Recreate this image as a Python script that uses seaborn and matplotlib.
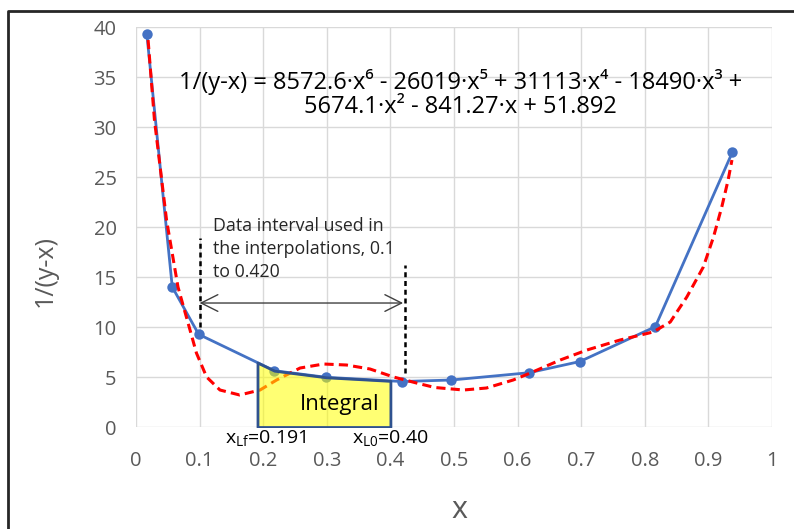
import numpy as np
import matplotlib
matplotlib.use("Agg")
import matplotlib.pyplot as plt
import seaborn as sns
from matplotlib.lines import Line2D

# measured points (blue) and the 6th order trendline as drawn (red dashed)
x_data = [0.017, 0.057, 0.0985, 0.2175, 0.299, 0.418, 0.496, 0.618, 0.698, 0.8165, 0.9376]
y_data = [39.3, 14.0, 9.27, 5.63, 4.97, 4.55, 4.7, 5.43, 6.55, 10.03, 27.47]

fit_x = [0.019, 0.029, 0.048, 0.066, 0.088, 0.095, 0.111, 0.132, 0.163, 0.195,
         0.221, 0.258, 0.295, 0.331, 0.368, 0.405, 0.441, 0.47, 0.515, 0.551,
         0.593, 0.62, 0.667, 0.709, 0.761, 0.813, 0.84, 0.866, 0.892, 0.908,
         0.921, 0.931, 0.937]
fit_y = [38.7, 30.7, 20.7, 14.0, 9.0, 7.4, 5.0, 3.7, 3.2, 3.7,
         4.7, 5.9, 6.3, 6.2, 5.8, 5.0, 4.4, 3.95, 3.7, 3.9,
         4.7, 5.4, 6.7, 7.7, 8.7, 9.5, 10.5, 13.0, 16.0, 19.0,
         22.0, 24.7, 26.7]

# integral limits and interpolation interval
x_lf, x_l0 = 0.191, 0.40
interval_x = [0.1, 0.42]
vline_x = [0.1, 0.423]
vline_bottom = [10.0, 5.4]
vline_top = [18.9, 16.2]
arrow_y = 12.4

x_ticks = [0, 0.1, 0.2, 0.3, 0.4, 0.5, 0.6, 0.7, 0.8, 0.9, 1]
x_ticklabels = ["0", "0.1", "0.2", "0.3", "0.4", "0.5", "0.6", "0.7", "0.8", "0.9", "1"]
y_ticks = [0, 5, 10, 15, 20, 25, 30, 35, 40]

equation = ("1/(y-x) = 8572.6·x⁶ - 26019·x⁵ + 31113·x⁴ - 18490·x³ +\n"
            "5674.1·x² - 841.27·x + 51.892")
interval_text = "Data interval used in\nthe interpolations, 0.1\nto 0.420"

sns.set_style("white")
plt.rcParams['font.family'] = ['Open Sans', 'DejaVu Sans']
plt.rcParams['mathtext.fontset'] = 'custom'
plt.rcParams['mathtext.rm'] = 'Open Sans'
plt.rcParams['mathtext.it'] = 'Open Sans'

fig = plt.figure(figsize=(7.94, 5.29), dpi=100)
ax = fig.add_axes([0.1713, 0.1928, 0.801, 0.7561])

sns.lineplot(x=x_data, y=y_data, ax=ax, color="#4472C4", lw=2, marker="o",
             markersize=7.5, markeredgewidth=0, zorder=2)
sns.lineplot(x=fit_x, y=fit_y, ax=ax, color="#FF0000", lw=2.2,
             linestyle=(0, (3, 1.7)), zorder=3)

# yellow integral area under the measured curve
xd = np.array(x_data)
inside = xd[(xd > x_lf) & (xd < x_l0)]
xs_box = np.concatenate([[x_lf], inside, [x_l0]])
ys_box = np.interp(xs_box, x_data, y_data)
ax.fill_between(xs_box, 0, ys_box, facecolor=(1, 1, 0, 0.55),
                edgecolor="#2F528F", lw=2, zorder=4)

ax.vlines(vline_x, vline_bottom, vline_top, colors="black", lw=1.8,
          linestyles=(0, (2, 1.5)), zorder=5)
ax.annotate("", xy=(interval_x[0], arrow_y), xytext=(interval_x[1], arrow_y),
            arrowprops=dict(arrowstyle="<->,head_length=0.6,head_width=0.3",
                            color="#404040", lw=1, mutation_scale=20,
                            shrinkA=0, shrinkB=0), zorder=5)

ax.text(0.51, 33.3, equation, ha="center", va="center", fontsize=17,
        color="black", linespacing=1.05)
ax.text(0.121, 21.0, interval_text, ha="left", va="top", fontsize=12.8,
        color="#262626", linespacing=1.35)
ax.text(0.321, 2.3, "Integral", ha="center", va="center",
        fontsize=16, color="black", zorder=6)
ax.text(0.14, -0.1, r"x$_{\mathregular{Lf}}$=0.191", ha="left", va="top",
        fontsize=14, color="black")
ax.text(0.34, -0.1, r"x$_{\mathregular{L0}}$=0.40", ha="left", va="top",
        fontsize=14, color="black")

ax.set_xlim(0, 1)
ax.set_ylim(0, 40)
ax.set_xticks(x_ticks)
ax.set_xticklabels(x_ticklabels)
ax.set_yticks(y_ticks)
ax.tick_params(length=0, labelsize=14.5, labelcolor="#595959")
ax.tick_params(axis="x", pad=17)
ax.tick_params(axis="y", pad=14)
ax.grid(True, color="#D9D9D9", lw=1)
ax.set_axisbelow(True)
for s in ax.spines.values():
    s.set_visible(False)

ax.set_xlabel("x", fontsize=22, color="#595959", va="center")
ax.xaxis.set_label_coords(0.509, -0.2075)
ax.set_ylabel("1/(y-x)", fontsize=18, color="#595959", va="center")
ax.yaxis.set_label_coords(-0.143, 0.39)

# frame of the original figure (top and left edges)
fig.add_artist(Line2D([0.0107, 0.0107, 1.0], [0.0, 0.980, 0.980],
                      transform=fig.transFigure, color="#262626", lw=2))

fig.savefig("out.png", dpi=100)
